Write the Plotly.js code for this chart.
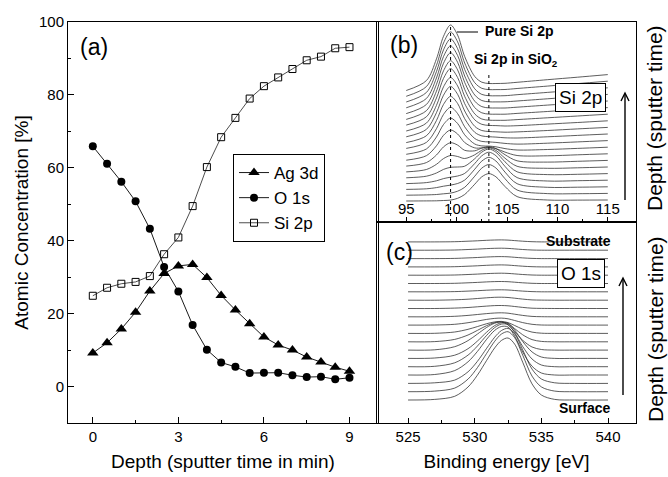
<!DOCTYPE html>
<html>
<head>
<meta charset="utf-8">
<script src="https://cdn.plot.ly/plotly-3.0.1.min.js"></script>
<style>html,body{margin:0;padding:0;background:#fff}#chart{width:668px;height:477px}</style>
</head>
<body>
<div id="chart"></div>
<script>
// ---------- panel (a): depth profile ----------
const depth = [0, 0.5, 1, 1.5, 2, 2.5, 3, 3.5, 4, 4.5, 5, 5.5, 6, 6.5, 7, 7.5, 8, 8.5, 9];
const ag3d = [9.2, 12.0, 15.8, 20.4, 26.2, 31.0, 33.1, 33.5, 29.9, 25.0, 21.0, 17.2, 13.6, 11.4, 10.0, 8.1, 6.7, 5.3, 4.2];
const o1s  = [65.9, 61.1, 56.2, 50.8, 43.3, 32.8, 26.1, 16.9, 10.1, 6.6, 5.4, 3.7, 3.8, 3.8, 3.1, 2.6, 2.7, 2.0, 2.4];
const si2p = [24.9, 27.1, 28.2, 28.7, 30.3, 36.3, 40.9, 49.5, 60.2, 68.4, 73.7, 79.0, 82.4, 84.8, 87.1, 89.5, 90.5, 92.8, 93.1];
const seriesNames = ['Ag 3d', 'O 1s', 'Si 2p'];
const depthTicks = [0, 3, 6, 9];
const concTicks = [0, 20, 40, 60, 80, 100];

// ---------- panel (b): Si 2p spectra (stacked, bottom = surface) ----------
const siEnergy = [95, 97, 98, 98.7, 99.4, 100.1, 100.8, 101.8, 102.5, 103.2, 103.9, 104.8, 106, 109, 112, 115];
const siSpectra = [
  [21.0, 21.1, 21.2, 21.5, 21.9, 23.7, 27.5, 37.8, 45.2, 48.4, 45.2, 35.5, 25.4, 22.0, 21.9, 22.0],
  [26.8, 27.1, 27.5, 28.2, 28.9, 30.8, 34.7, 45.8, 53.9, 57.5, 54.0, 43.3, 32.0, 28.4, 28.3, 28.6],
  [32.6, 33.2, 34.4, 35.8, 36.9, 38.5, 41.9, 52.8, 60.9, 64.7, 61.0, 49.9, 38.3, 34.7, 34.8, 35.2],
  [38.4, 39.4, 41.2, 43.4, 44.8, 46.0, 48.6, 58.5, 66.2, 69.8, 66.3, 55.6, 44.4, 41.0, 41.3, 41.8],
  [44.2, 45.8, 49.0, 52.6, 54.7, 55.0, 55.8, 63.3, 69.9, 73.0, 69.8, 60.2, 50.2, 47.4, 47.7, 48.4],
  [50.1, 52.5, 57.7, 63.4, 66.5, 65.5, 63.5, 67.2, 71.8, 74.2, 71.6, 63.8, 55.7, 53.7, 54.2, 55.0],
  [55.9, 59.4, 67.0, 75.1, 79.3, 76.9, 71.7, 71.2, 73.9, 75.4, 73.4, 67.3, 61.2, 59.9, 60.7, 61.6],
  [61.8, 66.3, 76.2, 86.7, 92.0, 88.0, 79.5, 74.1, 74.1, 74.7, 73.4, 69.9, 66.5, 66.2, 67.2, 68.2],
  [67.7, 73.0, 85.0, 97.5, 103.9, 98.5, 87.2, 78.0, 76.1, 75.9, 75.2, 73.4, 72.0, 72.5, 73.6, 74.8],
  [73.6, 79.6, 93.3, 107.6, 114.7, 108.4, 95.2, 83.5, 80.6, 80.1, 79.6, 78.6, 77.9, 78.8, 80.1, 81.4],
  [79.4, 86.2, 101.5, 117.6, 125.6, 118.5, 103.3, 89.7, 86.1, 85.3, 84.9, 84.2, 84.0, 85.2, 86.6, 88.0],
  [85.2, 92.6, 109.3, 126.8, 135.6, 127.7, 111.0, 95.7, 91.5, 90.5, 90.2, 89.8, 90.1, 91.5, 93.1, 94.6],
  [91.0, 98.9, 116.6, 135.2, 144.5, 136.1, 118.4, 102.2, 97.7, 96.6, 96.4, 96.0, 96.3, 97.9, 99.5, 101.2],
  [96.9, 105.2, 124.0, 143.6, 153.4, 144.5, 125.6, 108.1, 103.0, 101.8, 101.7, 101.7, 102.4, 104.2, 106.0, 107.8],
  [102.6, 111.3, 130.8, 151.2, 161.3, 152.1, 132.6, 114.4, 109.2, 107.9, 107.8, 107.8, 108.6, 110.5, 112.5, 114.4],
  [108.4, 117.5, 137.6, 158.8, 169.3, 159.7, 139.6, 120.8, 115.4, 114.1, 114.0, 114.0, 114.8, 116.9, 118.9, 121.0],
  [114.2, 123.5, 144.0, 165.5, 176.2, 166.5, 146.0, 127.0, 121.5, 120.2, 120.1, 120.2, 121.0, 123.2, 125.4, 127.6],
  [120.0, 129.5, 150.4, 172.2, 183.2, 173.3, 152.5, 133.2, 127.6, 126.3, 126.2, 126.3, 127.3, 129.6, 131.9, 134.2],
  [125.7, 135.4, 156.7, 179.0, 190.1, 180.1, 159.0, 139.3, 133.7, 132.4, 132.4, 132.5, 133.5, 135.9, 138.4, 140.8],
  [131.5, 141.4, 163.1, 185.7, 197.0, 186.9, 165.5, 145.5, 139.8, 138.5, 138.5, 138.7, 139.7, 142.3, 144.8, 147.4]
];
const siTicks = [95, 100, 105, 110, 115];
const siPeakPure = 99.4;
const siPeakOxide = 103.2;

// ---------- panel (c): O 1s spectra (stacked, bottom = surface) ----------
const oEnergy = [525, 527, 528.5, 529.5, 530.2, 530.9, 531.5, 532, 532.5, 533, 533.6, 534.3, 535, 536, 537.5, 540];
const oSpectra = [
  [23.0, 23.6, 26.7, 36.0, 47.8, 62.7, 75.1, 82.5, 85.0, 78.8, 60.8, 39.1, 28.0, 23.6, 23.0, 23.0],
  [31.3, 31.9, 34.9, 43.9, 55.3, 69.7, 81.7, 88.9, 91.3, 85.3, 67.9, 46.9, 36.1, 31.9, 31.3, 31.3],
  [39.6, 40.2, 42.9, 51.2, 61.6, 74.8, 85.8, 92.4, 94.6, 89.1, 73.2, 53.9, 44.0, 40.2, 39.6, 39.6],
  [48.0, 48.5, 52.4, 61.2, 71.5, 83.8, 92.6, 96.5, 96.0, 86.7, 71.0, 56.8, 50.0, 48.0, 48.0, 48.0],
  [56.3, 56.7, 60.2, 67.9, 76.9, 87.7, 95.4, 98.9, 98.4, 90.3, 76.5, 64.0, 58.0, 56.3, 56.3, 56.3],
  [64.6, 65.0, 67.8, 74.3, 81.9, 90.9, 97.4, 100.2, 99.9, 93.0, 81.5, 71.1, 66.0, 64.6, 64.6, 64.6],
  [72.9, 73.2, 76.3, 82.4, 88.9, 95.6, 99.8, 100.9, 98.1, 91.4, 82.7, 76.0, 73.5, 72.9, 72.9, 72.9],
  [81.2, 81.4, 83.6, 88.0, 92.6, 97.4, 100.4, 101.2, 99.2, 94.4, 88.2, 83.4, 81.6, 81.2, 81.2, 81.2],
  [89.6, 89.7, 91.0, 93.7, 96.4, 99.3, 101.1, 101.6, 100.4, 97.5, 93.8, 90.9, 89.8, 89.6, 89.6, 89.6],
  [97.9, 98.0, 98.7, 100.3, 101.9, 103.6, 104.6, 104.9, 104.2, 102.5, 100.4, 98.7, 98.0, 97.9, 97.9, 97.9],
  [106.2, 106.2, 106.7, 107.6, 108.5, 109.4, 110.0, 110.2, 109.8, 108.8, 107.6, 106.6, 106.3, 106.2, 106.2, 106.2],
  [114.5, 114.5, 114.9, 115.5, 116.2, 116.9, 117.4, 117.5, 117.2, 116.5, 115.6, 114.8, 114.6, 114.5, 114.5, 114.5],
  [122.8, 122.8, 123.2, 123.8, 124.5, 125.2, 125.7, 125.8, 125.5, 124.8, 123.9, 123.1, 122.9, 122.8, 122.8, 122.8],
  [131.2, 131.2, 131.4, 131.9, 132.3, 132.8, 133.1, 133.2, 133.0, 132.5, 131.9, 131.4, 131.2, 131.2, 131.2, 131.2],
  [139.5, 139.5, 139.7, 140.2, 140.6, 141.1, 141.4, 141.5, 141.3, 140.8, 140.2, 139.7, 139.5, 139.5, 139.5, 139.5],
  [147.8, 147.8, 148.0, 148.5, 148.9, 149.4, 149.7, 149.8, 149.6, 149.1, 148.5, 148.0, 147.8, 147.8, 147.8, 147.8],
  [156.1, 156.1, 156.3, 156.8, 157.2, 157.7, 158.0, 158.1, 157.9, 157.4, 156.8, 156.3, 156.1, 156.1, 156.1, 156.1],
  [164.4, 164.4, 164.6, 165.1, 165.5, 166.0, 166.3, 166.4, 166.2, 165.7, 165.1, 164.6, 164.4, 164.4, 164.4, 164.4],
  [172.8, 172.8, 173.0, 173.5, 173.9, 174.4, 174.7, 174.8, 174.6, 174.1, 173.5, 173.0, 172.8, 172.8, 172.8, 172.8],
  [181.1, 181.1, 181.3, 181.8, 182.2, 182.7, 183.0, 183.1, 182.9, 182.4, 181.8, 181.3, 181.1, 181.1, 181.1, 181.1]
];
const oTicks = [525, 530, 535, 540];

// ---------- layout helpers (pixel -> paper) ----------
const W = 668, H = 477;
const px = v => v / W;
const py = v => 1 - v / H;
const FONT = 'Liberation Sans, Arial, sans-serif';

const traces = [];
const lineStyle = {color: '#000', width: 0.9};
traces.push({x: depth, y: ag3d, name: seriesNames[0], mode: 'lines+markers', xaxis: 'x', yaxis: 'y',
  line: lineStyle, marker: {symbol: 'triangle-up', size: 10, color: '#000'}});
traces.push({x: depth, y: o1s, name: seriesNames[1], mode: 'lines+markers', xaxis: 'x', yaxis: 'y',
  line: lineStyle, marker: {symbol: 'circle', size: 8, color: '#000'}});
traces.push({x: depth, y: si2p, name: seriesNames[2], mode: 'lines+markers', xaxis: 'x', yaxis: 'y',
  line: {color: '#000', width: 0.7}, marker: {symbol: 'square-open', size: 7, color: '#000', line: {width: 1}}});

siSpectra.forEach(s => traces.push({x: siEnergy, y: s, mode: 'lines', xaxis: 'x2', yaxis: 'y2',
  showlegend: false, line: {color: '#333', width: 0.8, shape: 'spline', smoothing: 0.9}, hoverinfo: 'skip'}));
oSpectra.forEach(s => traces.push({x: oEnergy, y: s, mode: 'lines', xaxis: 'x3', yaxis: 'y3',
  showlegend: false, line: {color: '#333', width: 0.8, shape: 'spline', smoothing: 0.9}, hoverinfo: 'skip'}));

const common = {showgrid: false, zeroline: false, showline: true, linecolor: '#000', linewidth: 1, mirror: true,
  ticks: 'inside', tickcolor: '#000', tickfont: {family: FONT, size: 15, color: '#000'}};

const dA_x = [px(68), px(378)];
const dBC_x = [px(377), px(636)];

function label(text, x, y, size, extra) {
  return Object.assign({text: text, x: px(x), y: py(y), xref: 'paper', yref: 'paper',
    xanchor: 'center', yanchor: 'middle', showarrow: false, font: {family: FONT, size: size, color: '#000'}}, extra || {});
}
// vertical upward arrow drawn as a shaft plus an open chevron head (pixel positions of the decoration)
function arrowShapes(x, yTop, yBottom) {
  const head = 'M ' + px(x - 4) + ' ' + py(yTop + 8) + ' L ' + px(x) + ' ' + py(yTop) + ' L ' + px(x + 4) + ' ' + py(yTop + 8);
  return [
    {type: 'line', xref: 'paper', yref: 'paper', x0: px(x), x1: px(x), y0: py(yBottom), y1: py(yTop + 1),
      line: {color: '#000', width: 1.4}},
    {type: 'path', xref: 'paper', yref: 'paper', path: head, line: {color: '#000', width: 1.4}}
  ];
}

const layout = {
  width: W, height: H,
  margin: {l: 0, r: 0, t: 0, b: 0},
  paper_bgcolor: '#fff', plot_bgcolor: 'rgba(0,0,0,0)',
  font: {family: FONT, color: '#000'},
  showlegend: true,
  legend: {x: px(233), y: py(154), xanchor: 'left', yanchor: 'top', bordercolor: '#000', borderwidth: 1,
    bgcolor: '#fff', font: {family: FONT, size: 17, color: '#000'}, itemwidth: 30, tracegroupgap: 0},
  xaxis: Object.assign({}, common, {domain: dA_x, anchor: 'y', range: [-0.87, 10.0], tickvals: depthTicks,
    ticklen: 6, minor: {tickvals: [1.5, 4.5, 7.5], ticklen: 3, ticks: 'inside', tickcolor: '#000'},
    title: {text: 'Depth (sputter time in min)', font: {family: FONT, size: 19}, standoff: 10}}),
  yaxis: Object.assign({}, common, {domain: [py(423), py(22)], anchor: 'x', range: [-10, 100], tickvals: concTicks,
    ticklen: 6, minor: {tickvals: [10, 30, 50, 70, 90], ticklen: 3, ticks: 'inside', tickcolor: '#000'},
    title: {text: 'Atomic Concentration [%]', font: {family: FONT, size: 19}, standoff: 5}}),
  xaxis2: Object.assign({}, common, {domain: dBC_x, anchor: 'y2', range: [92.1, 117.8], tickvals: siTicks,
    ticklen: 5, ticklabelposition: 'inside',
    minor: {tickvals: [97.5, 102.5, 107.5, 112.5], ticklen: 3, ticks: 'inside', tickcolor: '#000'}}),
  yaxis2: Object.assign({}, common, {domain: [py(222), py(22)], anchor: 'x2', range: [0, 200], ticks: '',
    showticklabels: false}),
  xaxis3: Object.assign({}, common, {domain: dBC_x, anchor: 'y3', range: [522.67, 542.1], tickvals: oTicks,
    ticklen: 5, minor: {tickvals: [527.5, 532.5, 537.5], ticklen: 3, ticks: 'inside', tickcolor: '#000'},
    title: {text: 'Binding energy [eV]', font: {family: FONT, size: 19}, standoff: 10}}),
  yaxis3: Object.assign({}, common, {domain: [py(423), py(222)], anchor: 'x3', range: [0, 201], ticks: '',
    showticklabels: false}),
  shapes: [
    {type: 'line', xref: 'x2', yref: 'y2', x0: siPeakPure, x1: siPeakPure, y0: 0, y1: 197,
      line: {color: '#000', width: 1, dash: 'dot'}},
    {type: 'line', xref: 'x2', yref: 'y2', x0: siPeakOxide, x1: siPeakOxide, y0: 0, y1: 150,
      line: {color: '#000', width: 1, dash: 'dot'}},
    {type: 'line', xref: 'paper', yref: 'paper', x0: px(457), x1: px(478), y0: py(32), y1: py(32),
      line: {color: '#000', width: 1}}
  ].concat(arrowShapes(625, 93, 200), arrowShapes(623, 278, 395)),
  annotations: [
    label('(a)', 94, 47, 23),
    label('(b)', 404, 45, 23),
    label('(c)', 399, 252, 23),
    label('Si 2p', 580, 97, 19, {bordercolor: '#000', borderwidth: 1, borderpad: 3, bgcolor: '#fff'}),
    label('O 1s', 581, 273, 19, {bordercolor: '#000', borderwidth: 1, borderpad: 3, bgcolor: '#fff'}),
    label('<b>Pure Si 2p</b>', 483, 31, 14, {xanchor: 'left'}),
    label('<b>Si 2p in SiO<sub>2</sub></b>', 472, 60, 14, {xanchor: 'left'}),
    label('<b>Substrate</b>', 613, 241, 14, {xanchor: 'right'}),
    label('<b>Surface</b>', 613, 408, 14, {xanchor: 'right'}),
    label('Depth (sputter time)', 655, 118, 21, {textangle: -90}),
    label('Depth (sputter time)', 655, 329, 21, {textangle: -90})
  ]
};

Plotly.newPlot('chart', traces, layout, {displayModeBar: false, staticPlot: true});
</script>
</body>
</html>
